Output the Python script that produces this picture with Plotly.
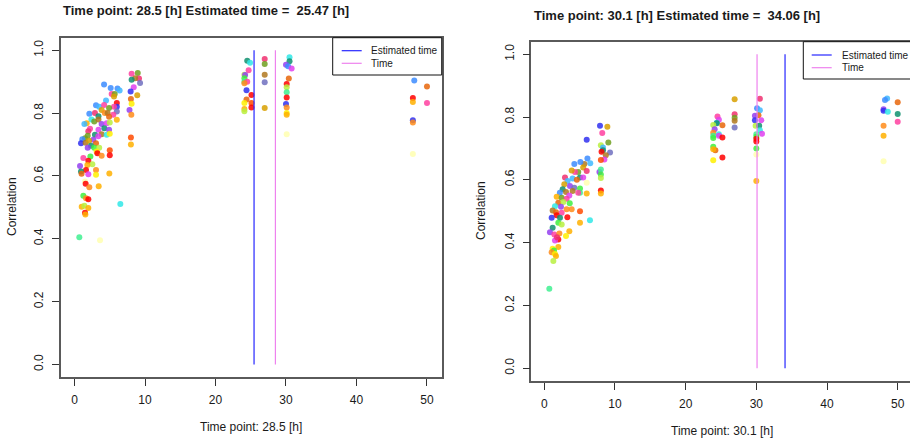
import plotly.graph_objects as go

W, H = 910, 443

# colour of each sample (index into this list)
palette = ["#FF0000", "#FF4A00", "#E8660A", "#FF8C1A", "#FFB000", "#FFD700", "#FFF000", "#FFFFB0",
           "#B8F040", "#40F040", "#40F090", "#109070", "#30E8E8", "#40B8FF", "#3C8CFF", "#3030F0",
           "#9440F0", "#E040F0", "#FF40A0", "#F03070", "#B07820", "#70A020", "#7070C0", "#D8A000"]

# ---- panel A: time point 28.5 h ----
time_point_a = 28.5
est_time_a = 25.47
hours_a = [8.97, 8.1, 9.15, 8.6, 8.1, 9.3, 8.4, 7.96, 8.9, 8.0, 8.1, 7.8, 8.06, 8.0, 8.0,
           4.19, 5.13, 6.1, 6.4, 5.27, 5.7, 5.6, 4.47, 6.0, 6.0, 5.6, 3.05, 3.5, 4.2, 4.9, 3.85,
           6.0, 5.5, 4.3, 4.7, 2.1, 2.9, 3.4, 4.9, 6.0, 2.4, 2.8, 1.73, 1.4, 3.4, 3.85, 4.56, 5.0,
           4.23, 4.9, 3.4, 2.2, 1.96, 3.85, 4.56, 5.0, 2.9, 1.87, 1.49, 2.67, 3.38, 1.11, 0.92,
           1.58, 2.06, 3.05, 2.34, 1.87, 2.8, 3.5, 3.14, 3.24, 3.85, 5.0, 5.0, 2.25, 1.25, 1.96,
           2.53, 1.82, 0.78, 1.63, 3.05, 0.92, 1.0, 1.96, 3.05, 4.94, 1.49, 1.58, 2.1, 3.43, 1.25,
           1.63, 1.96, 1.02, 1.4, 1.96, 1.49, 1.54, 6.5, 0.68, 3.62,
           24.5, 24.9, 24.7, 24.1, 24.2, 24.1, 24.1, 24.5, 24.1, 24.4, 25.1, 24.4, 25.1, 24.1,
           25.1, 24.1, 24.1,
           26.98, 26.98, 26.98, 26.98, 26.98,
           30.5, 30.5, 30.0, 30.3, 30.8, 30.4, 30.1, 30.1, 30.1, 30.1, 30.0, 30.1, 30.1, 30.1, 30.1,
           48.2, 50.0, 48.0, 48.0, 50.0, 48.0, 48.0, 48.0]
corr_a = [0.928, 0.925, 0.910, 0.911, 0.906, 0.896, 0.882, 0.869, 0.857, 0.845, 0.83, 0.81, 0.795, 0.722, 0.70,
          0.891, 0.88, 0.878, 0.872, 0.861, 0.861, 0.853, 0.84, 0.832, 0.82, 0.82, 0.825, 0.82, 0.826, 0.816, 0.81,
          0.805, 0.795, 0.8, 0.8, 0.798, 0.80, 0.79, 0.788, 0.779, 0.78, 0.773, 0.768, 0.765, 0.78, 0.765, 0.768, 0.77,
          0.752, 0.747, 0.747, 0.75, 0.742, 0.733, 0.731, 0.734, 0.731, 0.728, 0.72, 0.715, 0.726, 0.717, 0.704,
          0.706, 0.712, 0.704, 0.696, 0.69, 0.69, 0.69, 0.678, 0.672, 0.664, 0.682, 0.666, 0.662, 0.657, 0.648,
          0.637, 0.635, 0.632, 0.619, 0.619, 0.614, 0.607, 0.605, 0.604, 0.608, 0.582, 0.575, 0.564, 0.567, 0.537,
          0.529, 0.526, 0.502, 0.505, 0.498, 0.483, 0.477, 0.511, 0.405, 0.395,
          0.967, 0.96, 0.936, 0.922, 0.921, 0.911, 0.9, 0.9, 0.895, 0.873, 0.858, 0.843, 0.832, 0.832,
          0.818, 0.813, 0.806,
          0.972, 0.956, 0.922, 0.898, 0.816,
          0.978, 0.965, 0.954, 0.949, 0.942, 0.91, 0.893, 0.882, 0.866, 0.85, 0.829, 0.818, 0.8, 0.795, 0.733,
          0.904, 0.885, 0.848, 0.835, 0.832, 0.777, 0.770, 0.670]
sample_a = [21, 18, 19, 20, 11, 22, 17, 15, 23, 2, 6, 16, 3, 1, 4,
            14, 14, 14, 13, 18, 21, 23, 13, 0, 15, 18, 14, 13, 18, 21, 23,
            22, 18, 3, 20, 14, 19, 11, 2, 4, 12, 21, 4, 13, 20, 16, 17, 8,
            11, 16, 17, 18, 19, 20, 12, 6, 11, 21, 21, 16, 17, 14, 15,
            20, 23, 2, 11, 16, 9, 8, 6, 0, 3, 1, 0, 9, 18, 0,
            8, 4, 16, 0, 3, 11, 2, 17, 6, 4, 7, 0, 3, 4, 9,
            3, 0, 4, 8, 4, 0, 4, 12, 10, 7,
            11, 12, 18, 8, 16, 9, 10, 18, 3, 15, 0, 2, 1, 6,
            0, 4, 8,
            19, 21, 20, 22, 23,
            12, 11, 16, 14, 17, 2, 0, 8, 10, 0, 15, 3, 6, 4, 7,
            14, 2, 0, 4, 18, 15, 3, 7]

# ---- panel B: time point 30.1 h ----
time_point_b = 30.1
est_time_b = 34.06
hours_b = [7.88, 8.92, 8.2, 6.0, 9.06, 8.0, 8.3, 8.3, 8.1, 9.3, 8.7, 8.5, 8.0, 7.8, 8.0, 8.0, 8.0, 8.0, 8.0,
           6.1, 6.5, 5.66, 5.1, 4.25, 5.5, 6.0, 4.8, 4.34, 3.87, 5.05, 5.5, 6.0, 4.0, 4.6, 2.93, 3.3,
           2.83, 3.63, 4.25, 5.05, 5.05, 6.0, 4.8, 2.6, 2.2, 3.07, 4.0, 3.54, 1.75, 2.46, 3.16, 1.98,
           2.7, 3.6, 1.51, 2.36, 3.16, 3.87, 1.18, 1.65, 2.46, 1.75, 3.26, 1.04, 2.22, 5.05, 6.46,
           5.05, 1.98, 2.46, 1.18, 3.54, 0.8, 1.42, 2.13, 3.07, 1.98, 1.51, 1.8, 1.98, 1.18, 1.37,
           1.04, 1.51, 1.65, 1.28, 0.71,
           24.5, 24.7, 24.4, 24.4, 25.2, 23.9, 24.1, 23.9, 23.9, 23.9, 24.7, 24.7, 25.2, 23.9, 24.2,
           23.9, 25.2, 23.9,
           26.93, 26.93, 26.93, 26.93, 26.93,
           30.5, 30.1, 30.5, 30.3, 29.8, 29.8, 30.7, 29.9, 30.4, 30.5, 30.8, 30.0, 30.0, 30.0, 30.0,
           30.0, 30.0, 30.0,
           48.5, 48.2, 48.0, 48.0, 48.6, 50.0, 50.0, 50.0, 48.0, 48.0, 48.0]
corr_b = [0.772, 0.769, 0.749, 0.728, 0.719, 0.71, 0.703, 0.694, 0.689, 0.687, 0.678, 0.665, 0.663, 0.625,
          0.633, 0.617, 0.606, 0.566, 0.556,
          0.668, 0.653, 0.65, 0.657, 0.65, 0.639, 0.628, 0.625, 0.625, 0.63, 0.607, 0.607, 0.591, 0.604,
          0.6, 0.607, 0.596, 0.586, 0.58, 0.575, 0.572, 0.559, 0.556, 0.559, 0.57, 0.559, 0.561, 0.564,
          0.55, 0.546, 0.543, 0.54, 0.527, 0.529, 0.525, 0.516, 0.514, 0.506, 0.506, 0.502, 0.497,
          0.495, 0.487, 0.481, 0.479, 0.479, 0.5, 0.471, 0.463, 0.463, 0.458, 0.447, 0.436, 0.433,
          0.426, 0.429, 0.421, 0.41, 0.407, 0.417, 0.386, 0.38, 0.375, 0.369, 0.364, 0.357, 0.341, 0.253,
          0.802, 0.791, 0.782, 0.780, 0.774, 0.775, 0.761, 0.75, 0.74, 0.733, 0.745, 0.74, 0.735, 0.705,
          0.694, 0.697, 0.671, 0.662,
          0.857, 0.809, 0.798, 0.788, 0.767,
          0.858, 0.828, 0.822, 0.806, 0.804, 0.79, 0.79, 0.772, 0.772, 0.758, 0.747, 0.745, 0.737, 0.731,
          0.722, 0.7, 0.681, 0.596,
          0.859, 0.854, 0.825, 0.82, 0.817, 0.847, 0.81, 0.785, 0.772, 0.74, 0.659]
sample_b = [15, 23, 18, 15, 21, 8, 13, 11, 0, 22, 20, 17, 1, 16, 10, 9, 8, 0, 4,
            14, 13, 20, 14, 14, 23, 19, 21, 18, 23, 11, 17, 7, 13, 2, 19, 13,
            23, 16, 22, 9, 10, 4, 18, 11, 14, 20, 20, 17, 4, 21, 18, 2,
            8, 9, 12, 16, 3, 3, 20, 2, 18, 0, 0, 15, 11, 1, 12,
            4, 9, 8, 11, 4, 16, 18, 3, 6, 0, 17, 19, 4, 6, 9,
            3, 6, 4, 8, 10,
            18, 17, 13, 11, 2, 8, 16, 3, 10, 9, 12, 17, 0, 9, 2,
            4, 0, 6,
            23, 19, 21, 20, 22,
            19, 14, 13, 2, 16, 15, 17, 8, 11, 12, 17, 10, 9, 0, 0,
            9, 7, 4,
            13, 14, 16, 15, 12, 2, 11, 18, 3, 4, 7]

x_ticks = [0, 10, 20, 30, 40, 50]
y_ticks = [0.0, 0.2, 0.4, 0.6, 0.8, 1.0]
y_tick_text = ["0.0", "0.2", "0.4", "0.6", "0.8", "1.0"]

EST_COLOR = "#2626FF"
TIME_COLOR = "#EE82EE"
FONT = "Liberation Sans, Arial, sans-serif"
TXT = "#1a1a1a"


def fx(p):
    return p / W


def fy(p):
    return 1 - p / H


fig = go.Figure()

panels = [
    dict(hours=hours_a, corr=corr_a, sample=sample_a, tp=time_point_a, est=est_time_a,
         xa="x", ya="y"),
    dict(hours=hours_b, corr=corr_b, sample=sample_b, tp=time_point_b, est=est_time_b,
         xa="x2", ya="y2"),
]

for p in panels:
    fig.add_trace(go.Scatter(
        x=p["hours"], y=p["corr"], mode="markers", xaxis=p["xa"], yaxis=p["ya"],
        marker=dict(size=6, color=[palette[i] for i in p["sample"]], opacity=0.85,
                    line=dict(width=0)),
        showlegend=False, hoverinfo="x+y"))
    fig.add_trace(go.Scatter(
        x=[p["est"], p["est"]], y=[0, 1], mode="lines", xaxis=p["xa"], yaxis=p["ya"],
        line=dict(color=EST_COLOR, width=1.2), showlegend=False))
    fig.add_trace(go.Scatter(
        x=[p["tp"], p["tp"]], y=[0, 1], mode="lines", xaxis=p["xa"], yaxis=p["ya"],
        line=dict(color=TIME_COLOR, width=1.2), showlegend=False))

axis_common = dict(showgrid=False, zeroline=False, showline=True, linecolor="#5a5a5a", linewidth=1.6,
                   ticks="outside", ticklen=7, tickwidth=1, tickcolor="#333",
                   tickfont=dict(family=FONT, size=12, color=TXT))

fig.update_layout(
    width=W, height=H, margin=dict(l=0, r=0, t=0, b=0),
    paper_bgcolor="white", plot_bgcolor="white",
    xaxis=dict(domain=[fx(60.7), fx(441.7)], range=[-1.96, 52.09], tickvals=x_ticks,
               mirror=True, anchor="y", ticklabelstandoff=4, **axis_common),
    yaxis=dict(domain=[fy(377), fy(37.7)], range=[-0.04, 1.04], tickvals=y_ticks,
               ticktext=y_tick_text, tickangle=-90, mirror=True, anchor="x",
               ticklabelstandoff=4, **axis_common),
    xaxis2=dict(domain=[fx(531.3), 1.0], range=[-1.84, 51.74], tickvals=x_ticks,
                mirror=True, anchor="y2", ticklabelstandoff=4, **axis_common),
    yaxis2=dict(domain=[fy(380.7), fy(41.7)], range=[-0.04, 1.04], tickvals=y_ticks,
                ticktext=y_tick_text, tickangle=-90, mirror=False, anchor="x2",
                ticklabelstandoff=4, **axis_common),
)

annotations = []
shapes = []


def text(x, y, s, size=12, bold=False, angle=0, xanchor="center"):
    annotations.append(dict(
        x=fx(x), y=fy(y), xref="paper", yref="paper", text=f"<b>{s}</b>" if bold else s,
        showarrow=False, xanchor=xanchor, yanchor="middle", textangle=angle,
        font=dict(family=FONT, size=size, color=TXT)))


# titles
text(60.7, 11, f"Time point: {time_point_a} [h] Estimated time =  {est_time_a} [h]", 13, True, xanchor="left")
text(531.7, 15, f"Time point: {time_point_b} [h] Estimated time =  {est_time_b} [h]", 13, True, xanchor="left")
# axis titles
text(251, 426.7, f"Time point: {time_point_a} [h]")
text(721.6, 431, f"Time point: {time_point_b} [h]")
text(12, 207, "Correlation", angle=-90)
text(481, 211, "Correlation", angle=-90)


def legend(x0, x1, y0, y1, ly1, ly2, lx0, lx1, tx):
    shapes.append(dict(type="rect", xref="paper", yref="paper", x0=fx(x0), x1=fx(x1),
                       y0=fy(y1), y1=fy(y0), line=dict(color="#111", width=1), fillcolor="white"))
    for ly, col, lab in [(ly1, EST_COLOR, "Estimated time"), (ly2, TIME_COLOR, "Time")]:
        shapes.append(dict(type="line", xref="paper", yref="paper", x0=fx(lx0), x1=fx(lx1),
                           y0=fy(ly), y1=fy(ly), line=dict(color=col, width=1.2)))
        annotations.append(dict(x=fx(tx), y=fy(ly), xref="paper", yref="paper", text=lab,
                                showarrow=False, xanchor="left", yanchor="middle",
                                font=dict(family=FONT, size=10, color=TXT)))


legend(332.7, 441.7, 37.7, 75, 50.7, 63.3, 341.7, 361.7, 369.3)
legend(803.3, 915, 41.7, 79, 55, 67.7, 811.7, 831.7, 840)

fig.update_layout(annotations=annotations, shapes=shapes)
fig.write_html("out.html")
